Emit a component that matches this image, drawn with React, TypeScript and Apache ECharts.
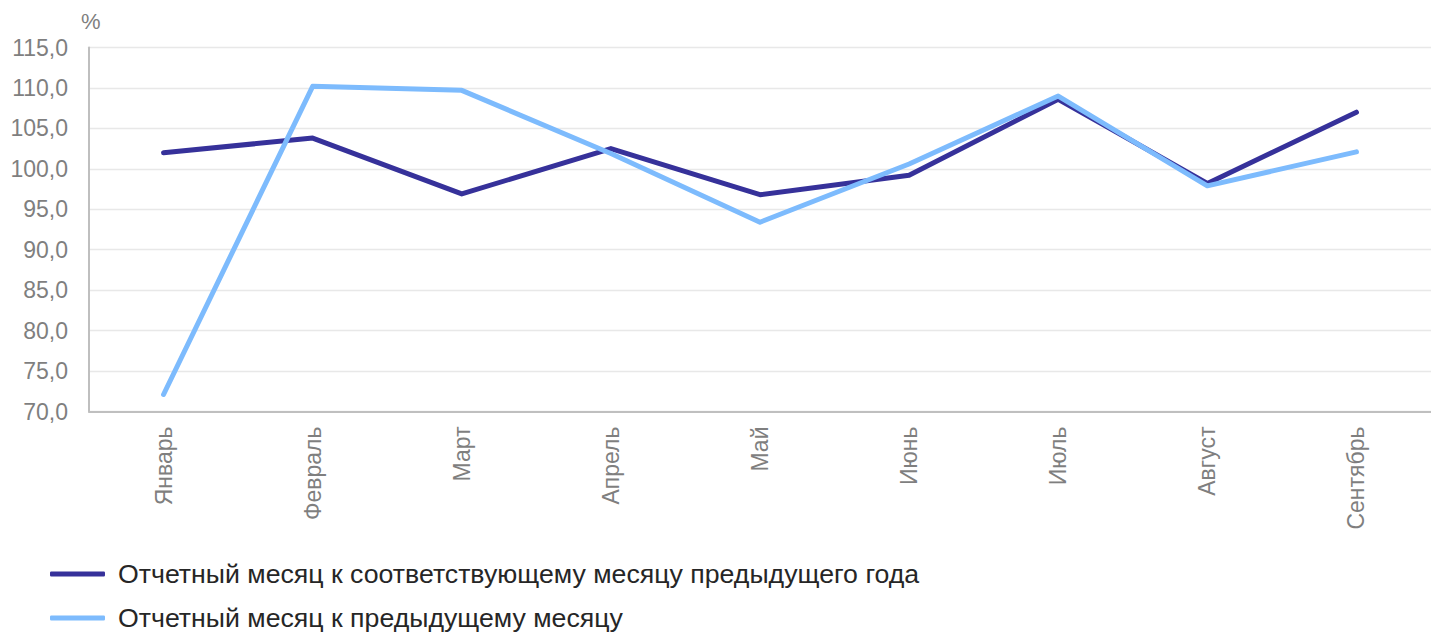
import React, { useEffect, useRef } from "react";
import * as echarts from "echarts";

const categories = ["Январь", "Февраль", "Март", "Апрель", "Май", "Июнь", "Июль", "Август", "Сентябрь"];
const yearOverYear = [102.0, 103.8, 96.9, 102.5, 96.8, 99.2, 108.6, 98.2, 107.0];
const monthOverMonth = [72.1, 110.2, 109.7, 101.9, 93.4, 100.6, 109.0, 97.9, 102.1];
const seriesNames = [
  "Отчетный месяц к соответствующему месяцу предыдущего года",
  "Отчетный месяц к предыдущему месяцу",
];
const unitLabel = "%";

const FONT = "'Liberation Sans', Arial, sans-serif";
const DARK = "#36319a";
const LIGHT = "#7dbbfd";

const legendBase = {
  orient: "horizontal",
  left: 50,
  padding: 0,
  itemWidth: 55,
  itemHeight: 5,
  icon: "roundRect",
  textStyle: { fontSize: 26.7, lineHeight: 30, color: "#262626", fontFamily: FONT, padding: [0, 0, 0, 8] },
};

export default function App() {
  const ref = useRef<HTMLDivElement>(null);
  useEffect(() => {
    if (!ref.current) return;
    const chart = echarts.init(ref.current, undefined, { renderer: "svg" });
    chart.setOption({
      animation: false,
      backgroundColor: "#ffffff",
      textStyle: { fontFamily: FONT },
      grid: { left: 89, right: -8, top: 47.5, bottom: 222.5, containLabel: false },
      graphic: [
        {
          type: "text",
          left: 81,
          top: 10,
          style: { text: unitLabel, fontSize: 22, fill: "#7f7f7f", fontFamily: FONT },
        },
      ],
      legend: [
        { ...legendBase, top: 559, data: [seriesNames[0]] },
        { ...legendBase, top: 603, data: [seriesNames[1]] },
      ],
      xAxis: {
        type: "category",
        data: categories,
        boundaryGap: true,
        axisLine: { show: true, lineStyle: { color: "#bfbfbf", width: 2 } },
        axisTick: { show: false },
        axisLabel: { rotate: 90, margin: 15, fontSize: 23, color: "#7f7f7f", fontFamily: FONT },
        splitLine: { show: false },
      },
      yAxis: {
        type: "value",
        min: 70,
        max: 115,
        interval: 5,
        axisLine: { show: true, lineStyle: { color: "#bfbfbf", width: 2 } },
        axisTick: { show: false },
        axisLabel: {
          margin: 21,
          fontSize: 23,
          color: "#7f7f7f",
          fontFamily: FONT,
          formatter: (v: number) => v.toFixed(1).replace(".", ","),
        },
        splitLine: { show: true, lineStyle: { color: "#e8e8e8", width: 1.3 } },
      },
      series: [
        {
          name: seriesNames[0],
          type: "line",
          data: yearOverYear,
          showSymbol: false,
          symbol: "none",
          color: DARK,
          lineStyle: { width: 5, color: DARK, cap: "round", join: "round" },
          itemStyle: { color: DARK },
        },
        {
          name: seriesNames[1],
          type: "line",
          data: monthOverMonth,
          showSymbol: false,
          symbol: "none",
          color: LIGHT,
          lineStyle: { width: 5, color: LIGHT, cap: "round", join: "round" },
          itemStyle: { color: LIGHT },
        },
      ],
    });
    return () => chart.dispose();
  }, []);
  return (
    <div
      ref={ref}
      style={{ position: "fixed", left: 0, top: 0, width: 1431, height: 634, background: "#fff" }}
    />
  );
}
